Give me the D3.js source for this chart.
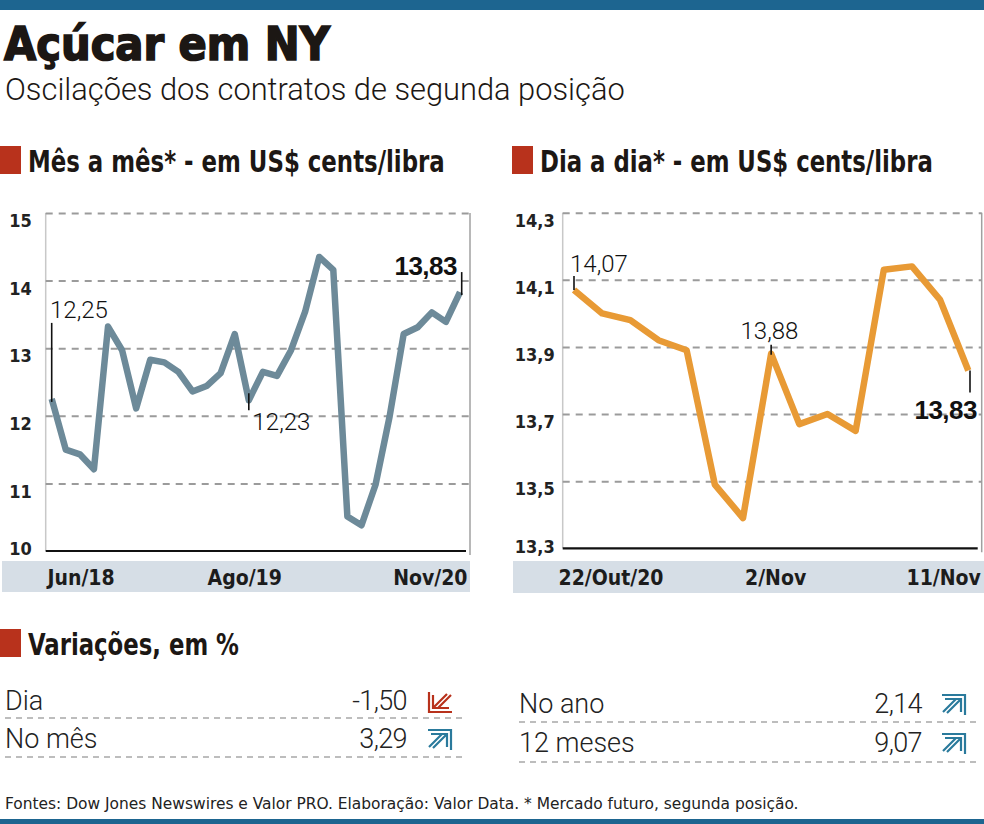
<!DOCTYPE html>
<html>
<head>
<meta charset="utf-8">
<script src="https://cdn.jsdelivr.net/npm/d3@7"></script>
<style>
  body { margin: 0; background: #fff; }
  svg { display: block; }
  .narrow { font-family: 'Liberation Sans Narrow', 'DejaVu Sans Condensed', sans-serif; }
  .light { font-family: Roboto, 'Open Sans', sans-serif; font-weight: 300; }
  .grid line { stroke: #9b9b9b; stroke-width: 2; stroke-dasharray: 7,6; }
  .grid path { display: none; }
</style>
</head>
<body>
<svg id="chart" width="984" height="824"></svg>
<script>
// Mes a mes (US$ cents/libra)
const monthLabels = ["Jun/18","Jul/18","Ago/18","Set/18","Out/18","Nov/18","Dez/18",
  "Jan/19","Fev/19","Mar/19","Abr/19","Mai/19","Jun/19","Jul/19","Ago/19","Set/19","Out/19","Nov/19","Dez/19",
  "Jan/20","Fev/20","Mar/20","Abr/20","Mai/20","Jun/20","Jul/20","Ago/20","Set/20","Out/20","Nov/20"];
const monthValues = [12.25, 11.50, 11.43, 11.21, 13.32, 12.97, 12.11, 12.83, 12.79, 12.65, 12.36, 12.44, 12.63, 13.21, 12.23,
  12.65, 12.59, 12.97, 13.54, 14.35, 14.16, 10.51, 10.38, 10.98, 11.99, 13.21, 13.31, 13.53, 13.39, 13.83];
const monthTicks = ["Jun/18", "Ago/19", "Nov/20"];
const monthTickText = ["Jun/18", "Ago/19", "Nov/20"];
const monthYTicks = [10, 11, 12, 13, 14, 15];

// Dia a dia (US$ cents/libra)
const dayLabels = ["22/Out","23/Out","26/Out","27/Out","28/Out","29/Out","30/Out",
  "2/Nov","3/Nov","4/Nov","5/Nov","6/Nov","9/Nov","10/Nov","11/Nov"];
const dayValues = [14.07, 14.00, 13.98, 13.92, 13.89, 13.49, 13.39, 13.88, 13.67, 13.70, 13.65, 14.13, 14.14, 14.04, 13.83];
const dayTicks = ["22/Out", "2/Nov", "11/Nov"];
const dayTickText = ["22/Out/20", "2/Nov", "11/Nov"];
const dayYTicks = [13.3, 13.5, 13.7, 13.9, 14.1, 14.3];

// Variacoes, em %
const varLabels = ["Dia", "No mês", "No ano", "12 meses"];
const varValues = [-1.50, 3.29, 2.14, 9.07];

const svg = d3.select("#chart");
const loc = d3.formatLocale({decimal: ",", thousands: ".", grouping: [3], currency: ["", ""], minus: "-"});
const f2 = loc.format(".2f"), f1 = loc.format(".1f"), f0 = loc.format("d");
const ink = "#1c1714", red = "#b8321c", blue = "#2a7a9c";

// squeeze a text horizontally so it spans `w` px, starting at (x, y)
function fitText(t, x, y, w) {
  const nat = t.node().getComputedTextLength();
  t.attr("transform", `translate(${x},${y}) scale(${w / nat},1)`);
  return t;
}

// bands top and bottom
svg.append("rect").attr("x", 0).attr("y", 0).attr("width", 984).attr("height", 10).attr("fill", "#1d6590");
svg.append("rect").attr("x", 0).attr("y", 819).attr("width", 984).attr("height", 5).attr("fill", "#1d6590");

// title + subtitle
fitText(svg.append("text").attr("class", "narrow")
  .attr("font-size", 46).attr("font-weight", 700).attr("fill", ink)
  .attr("stroke", ink).attr("stroke-width", 1.6)
  .text("Açúcar em NY"), 4, 60, 326);
fitText(svg.append("text").attr("class", "light")
  .attr("font-size", 32).attr("fill", ink)
  .text("Oscilações dos contratos de segunda posição"), 5, 100, 620);

function header(x, y, txt, len) {
  svg.append("rect").attr("x", x).attr("y", y - 26).attr("width", 21).attr("height", 28).attr("fill", red);
  fitText(svg.append("text").attr("class", "narrow")
    .attr("font-size", 30).attr("font-weight", 700).attr("fill", ink)
    .text(txt), x + 28, y, len);
}
header(0, 172, "Mês a mês* - em US$ cents/libra", 417);
header(512, 172, "Dia a dia* - em US$ cents/libra", 393);
header(0, 655, "Variações, em %", 211);

function drawPanel(o) {
  const g = svg.append("g");
  const x = d3.scalePoint().domain(o.cats).range(o.xr);
  const y = d3.scaleLinear().domain(o.yd).range([o.yb, o.yt]);

  g.append("rect").attr("x", o.band[0]).attr("y", o.band[2])
    .attr("width", o.band[1] - o.band[0]).attr("height", o.band[3] - o.band[2]).attr("fill", "#d6dee6");

  g.append("line").attr("x1", o.x0).attr("x2", o.x0).attr("y1", o.yt).attr("y2", o.yb)
    .attr("stroke", "#c8c8c8").attr("stroke-width", 1.5);
  g.append("line").attr("x1", o.x1).attr("x2", o.x1).attr("y1", o.yt).attr("y2", o.yb + 4)
    .attr("stroke", "#a0a0a0").attr("stroke-width", 1.5);

  g.append("g").attr("class", "grid").attr("transform", `translate(${o.x0},0)`)
    .call(d3.axisRight(y).tickValues(o.yTicks.slice(1)).tickSize(o.x1 - o.x0).tickFormat(""));

  g.append("line").attr("x1", o.x0).attr("x2", o.x1 - 4).attr("y1", o.yb).attr("y2", o.yb)
    .attr("stroke", "#111").attr("stroke-width", 2.2);

  const ya = g.append("g").attr("transform", `translate(${o.x0},0)`)
    .call(d3.axisLeft(y).tickValues(o.yTicks).tickSize(0).tickPadding(o.yPad).tickFormat(o.yFmt));
  ya.select(".domain").remove();
  ya.selectAll("text")
    .attr("y", d => d === o.yd[0] ? -2 : 8)
    .style("font-family", "'Liberation Sans Narrow', 'DejaVu Sans Condensed', sans-serif")
    .style("font-size", "18px").style("font-weight", 700).attr("fill", "#222");

  const xa = g.append("g").attr("transform", `translate(0,${o.labelY})`)
    .call(d3.axisBottom(x).tickValues(o.xTicks).tickSize(0).tickFormat((d, i) => o.xTickText[i]));
  xa.select(".domain").remove();
  const last = o.xTicks.length - 1;
  xa.selectAll("text")
    .attr("y", 0).attr("dy", 0)
    .attr("dx", (d, i) => o.xDx[i])
    .attr("text-anchor", (d, i) => i === 0 ? "start" : i === last ? "end" : "middle")
    .style("font-family", "'Liberation Sans Narrow', 'DejaVu Sans Condensed', sans-serif")
    .style("font-size", "21px").style("font-weight", 700)
    .attr("fill", "#1c1c1c");

  g.append("path").datum(o.values)
    .attr("d", d3.line().x((d, i) => x(o.cats[i])).y(d => y(d)))
    .attr("fill", "none").attr("stroke", o.color).attr("stroke-width", 6.5)
    .attr("stroke-linejoin", "round");

  const notes = g.selectAll("g.note").data(o.notes).enter().append("g").attr("class", "note");
  notes.append("line")
    .attr("x1", d => x(o.cats[d.i]) + d.lx).attr("x2", d => x(o.cats[d.i]) + d.lx)
    .attr("y1", d => y(o.values[d.i]) + d.l1).attr("y2", d => y(o.values[d.i]) + d.l2)
    .attr("stroke", "#111").attr("stroke-width", 1.6);
  notes.append("text")
    .attr("x", d => x(o.cats[d.i]) + d.dx).attr("y", d => y(o.values[d.i]) + d.dy)
    .attr("text-anchor", d => d.anchor)
    .attr("class", d => d.bold ? "" : "light")
    .style("font-family", d => d.bold ? "'Liberation Sans', Arial, sans-serif" : null)
    .attr("font-weight", d => d.bold ? 700 : 300)
    .attr("font-size", d => d.bold ? 26 : 24)
    .attr("letter-spacing", d => d.bold ? -0.5 : 0)
    .attr("fill", "#111")
    .text(d => f2(o.values[d.i]));
}

drawPanel({
  cats: monthLabels, values: monthValues, xTicks: monthTicks, xTickText: monthTickText,
  yTicks: monthYTicks, yd: [10, 15], yFmt: f0, yPad: 14,
  x0: 45.7, x1: 470, yt: 213, yb: 551, xr: [51.7, 460],
  band: [2, 470, 561, 592], labelY: 585, xDx: [-4.7, -4.6, 7],
  color: "#6d8a99",
  notes: [
    {i: 0, dx: -1.7, dy: -81, anchor: "start", bold: false, lx: 0, l1: -76, l2: 3},
    {i: 14, dx: 3.7, dy: 30, anchor: "start", bold: false, lx: 0, l1: -7, l2: 10},
    {i: 29, dx: -3, dy: -17, anchor: "end", bold: true, lx: 1.7, l1: -20, l2: 3}
  ]
});

drawPanel({
  cats: dayLabels, values: dayValues, xTicks: dayTicks, xTickText: dayTickText,
  yTicks: dayYTicks, yd: [13.3, 14.3], yFmt: f1, yPad: 8,
  x0: 562.7, x1: 981.7, yt: 212.7, yb: 548.3, xr: [574, 968.3],
  band: [513, 984, 561, 593], labelY: 585, xDx: [-16, 4, 12],
  color: "#e89a35",
  notes: [
    {i: 0, dx: -4, dy: -18, anchor: "start", bold: false, lx: 0, l1: -14, l2: 0},
    {i: 7, dx: -1.7, dy: -14.6, anchor: "middle", bold: false, lx: 0, l1: -9, l2: 1},
    {i: 14, dx: 8.7, dy: 48.6, anchor: "end", bold: true, lx: 1.7, l1: 0, l2: 22}
  ]
});

// variations table
const rowPos = [
  {lx: 5, vx: 407, ax: 428, base: 710, dash: 718, dx1: 5, dx2: 462},
  {lx: 5, vx: 407, ax: 428, base: 748, dash: 757, dx1: 5, dx2: 462},
  {lx: 519, vx: 922, ax: 942, base: 713, dash: 722, dx1: 519, dx2: 977},
  {lx: 519, vx: 922, ax: 942, base: 752, dash: 762, dx1: 519, dx2: 977}
];
const rows = svg.selectAll("g.vrow").data(varLabels).enter().append("g").attr("class", "vrow");
rows.append("line")
  .attr("x1", (d, i) => rowPos[i].dx1).attr("x2", (d, i) => rowPos[i].dx2)
  .attr("y1", (d, i) => rowPos[i].dash).attr("y2", (d, i) => rowPos[i].dash)
  .attr("stroke", "#a8a8a8").attr("stroke-width", 1.6).attr("stroke-dasharray", "6,5");
rows.append("text").attr("class", "light")
  .attr("x", (d, i) => rowPos[i].lx).attr("y", (d, i) => rowPos[i].base)
  .attr("font-size", 27).attr("fill", "#222").text(d => d);
rows.append("text").attr("class", "light")
  .attr("x", (d, i) => rowPos[i].vx).attr("y", (d, i) => rowPos[i].base)
  .attr("text-anchor", "end").attr("font-size", 27).attr("fill", "#222").attr("letter-spacing", -0.6)
  .text((d, i) => f2(varValues[i]));
// double arrows: down-left when negative, up-right when positive
const arrowPath = "M1,1 V21 H24 M5,4 V17 H21 M5,17 L19,3 M10,17 L23,4";
rows.append("path")
  .attr("d", arrowPath)
  .attr("transform", (d, i) => {
    const p = rowPos[i], t = `translate(${p.ax},${p.base - 19})`;
    return varValues[i] < 0 ? t : t + " rotate(180,12,11)";
  })
  .attr("fill", "none").attr("stroke-width", 2.2)
  .attr("stroke", (d, i) => varValues[i] < 0 ? red : blue);

// footer
fitText(svg.append("text").attr("class", "narrow")
  .attr("font-size", 16.5).attr("fill", "#222")
  .text("Fontes:  Dow Jones Newswires e Valor PRO. Elaboração: Valor Data. * Mercado futuro, segunda posição."), 5, 809, 794);
</script>
</body>
</html>
